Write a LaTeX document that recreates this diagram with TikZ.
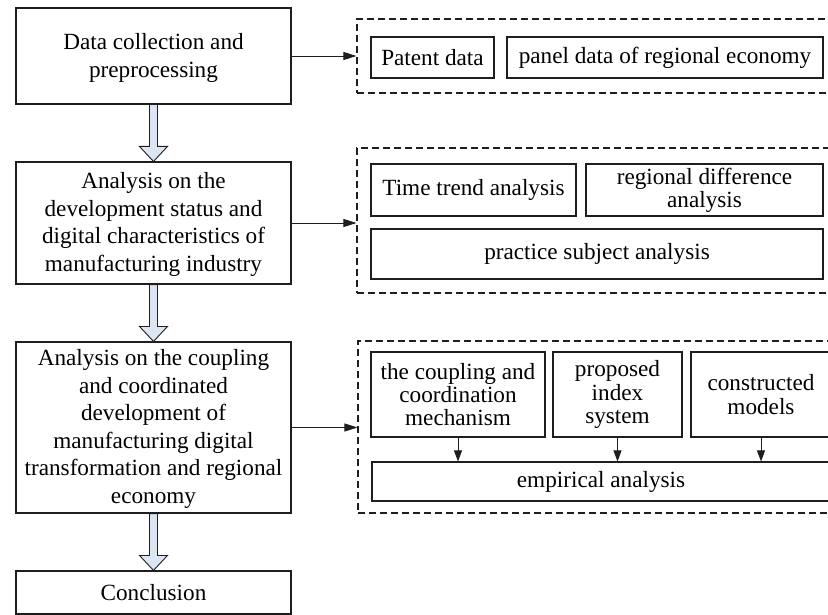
\documentclass[tikz,border=0pt]{standalone}
\usepackage{fontspec}
\setmainfont{Liberation Serif}
\usetikzlibrary{arrows.meta,calc}
\definecolor{arrowfill}{RGB}{220,230,242}
\definecolor{linecol}{RGB}{30,30,30}
\newcommand\lowtext[2]{\raisebox{-#1}[\height][\depth]{\begin{tabular}{@{}c@{}}#2\end{tabular}}}
\begin{document}
\begin{tikzpicture}[x=1pt,y=-1pt,
  box/.style={draw=linecol,line width=1.1pt,align=center,inner sep=0pt,
    font=\fontsize{23.2}{23.3}\selectfont},
  mainbox/.style={draw=linecol,line width=1.1pt,inner sep=0pt,minimum width=275pt,
    font=\fontsize{23.2}{27.5}\selectfont},
  dbox/.style={draw=linecol,line width=1.1pt,dash pattern=on 7pt off 4pt,inner sep=0pt},
  conn/.style={draw=linecol,line width=0.9pt,-{Triangle[length=13pt,width=8pt]}},
  conn2/.style={draw=linecol,line width=0.9pt,-{Triangle[length=11pt,width=8pt]}},
  blockarrow/.style={draw=linecol,line width=0.9pt,fill=arrowfill}
]
\useasboundingbox (0,0) rectangle (828,615);
\clip (0,0) rectangle (828,615);

% left column
\node[mainbox,minimum height=96pt] (b1) at (153.5,56)
  {\lowtext{2pt}{Data collection and\\preprocessing}};
\node[mainbox,minimum height=122pt] (b2) at (153.5,223)
  {\lowtext{1.5pt}{Analysis on the\\development status and\\digital characteristics of\\manufacturing industry}};
\node[mainbox,minimum height=171pt] (b3) at (153.5,427.5)
  {\lowtext{1.5pt}{Analysis on the coupling\\and coordinated\\development of\\manufacturing digital\\transformation and regional\\economy}};
\node[mainbox,minimum height=43pt] (b4) at (153.5,592.5)
  {Conclusion};

% block arrows
\foreach \a/\b in {b1/b2,b2/b3,b3/b4}{
  \path[blockarrow] let \p1=(\a.south), \p2=(\b.north) in
    (\x1-4pt,\y1) -- (\x1-4pt,\y2+15pt) -- (\x1-14pt,\y2+15pt) -- (\x1,\y2)
    -- (\x1+14pt,\y2+15pt) -- (\x1+4pt,\y2+15pt) -- (\x1+4pt,\y1) -- cycle;
}

% dashed containers
\node[dbox,minimum width=483pt,minimum height=74pt] (d1) at (598.5,56) {};
\node[dbox,minimum width=483pt,minimum height=145pt] (d2) at (598.5,220.5) {};
\node[dbox,minimum width=482pt,minimum height=172pt] (d3) at (599,427) {};

% group 1
\node[box,minimum width=123pt,minimum height=41pt] (p1) at (432.5,57.5) {Patent data};
\node[box,minimum width=316pt,minimum height=41pt] (p2) at (665,57.5) {panel data of regional economy};

% group 2
\node[box,minimum width=205pt,minimum height=52pt] (t1) at (473.5,190) {Time trend analysis};
\node[box,minimum width=237pt,minimum height=52pt] (t2) at (704.5,190) {regional difference\\analysis};
\node[box,minimum width=452pt,minimum height=50pt] (t3) at (597,254) {practice subject analysis};

% group 3
\node[box,minimum width=174pt,minimum height=85pt] (m1) at (458,394.5) {the coupling and\\coordination\\mechanism};
\node[box,minimum width=129pt,minimum height=85pt] (m2) at (617.5,394.5) {proposed\\index\\system};
\node[box,minimum width=140pt,minimum height=85pt] (m3) at (761,394.5) {constructed\\models};
\node[box,minimum width=458pt,minimum height=39pt] (emp) at (601,481.5) {empirical analysis};

% connectors
\draw[conn] (b1.east) -- (b1.east -| d1.west);
\draw[conn] (b2.east) -- (b2.east -| d2.west);
\draw[conn] (b3.east) -- (b3.east -| d3.west);
\draw[conn2] (m1.south) -- (m1.south |- emp.north);
\draw[conn2] (m2.south) -- (m2.south |- emp.north);
\draw[conn2] (m3.south) -- (m3.south |- emp.north);
\end{tikzpicture}
\end{document}
